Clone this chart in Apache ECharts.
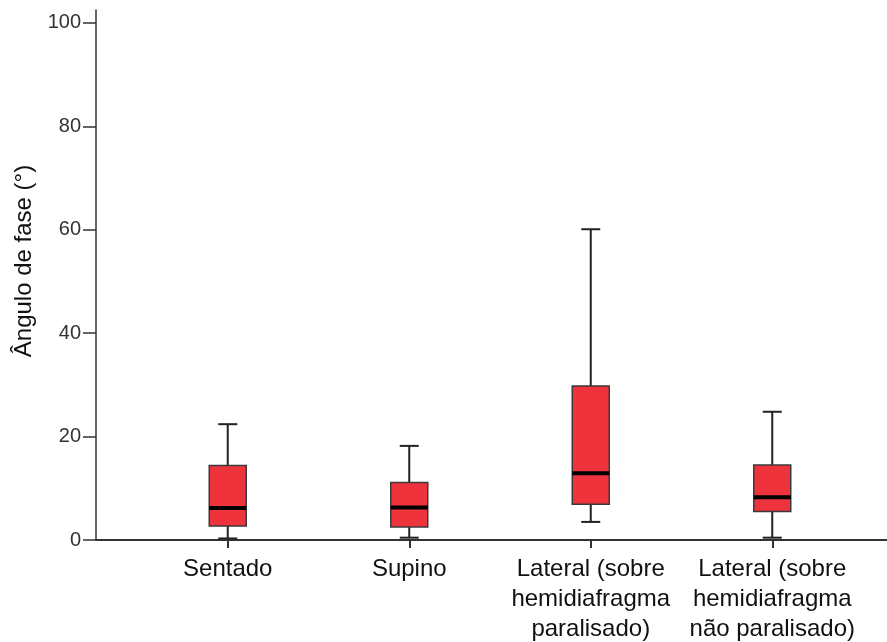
<!DOCTYPE html>
<html>
<head>
<meta charset="utf-8">
<script src="https://cdn.jsdelivr.net/npm/echarts@6/dist/echarts.min.js"></script>
<style>
html, body { margin: 0; padding: 0; background: #fff; }
#box-chart { width: 887px; height: 642px; }
</style>
</head>
<body>
<div id="box-chart"></div>
<script>
// data
var categories = ['Sentado', 'Supino', 'Lateral (sobre\nhemidiafragma\nparalisado)', 'Lateral (sobre\nhemidiafragma\nnão paralisado)'];
var mins = [0.3, 0.45, 3.5, 0.45];
var q1s = [2.7, 2.5, 6.9, 5.5];
var medians = [6.2, 6.3, 12.9, 8.25];
var q3s = [14.4, 11.1, 29.8, 14.5];
var maxs = [22.4, 18.2, 60.1, 24.8];
var yTicks = [0, 20, 40, 60, 80, 100];

var boxData = categories.map(function (c, i) {
    return [i, mins[i], q1s[i], medians[i], q3s[i], maxs[i]];
});

var font = '"Liberation Sans", Arial, sans-serif';
var lineCol = '#333';

function renderBox(params, api) {
    var i = api.value(0);
    var pMin = api.coord([i, api.value(1)]);
    var pQ1 = api.coord([i, api.value(2)]);
    var pMed = api.coord([i, api.value(3)]);
    var pQ3 = api.coord([i, api.value(4)]);
    var pMax = api.coord([i, api.value(5)]);
    var x = pMed[0];
    var bw = 37, cw = 19;
    var ws = { stroke: '#222', lineWidth: 2 };
    return {
        type: 'group',
        children: [
            { type: 'line', shape: { x1: x, y1: pQ3[1], x2: x, y2: pMax[1] }, style: ws },
            { type: 'line', shape: { x1: x, y1: pMin[1], x2: x, y2: pQ1[1] }, style: ws },
            { type: 'line', shape: { x1: x - cw / 2, y1: pMax[1], x2: x + cw / 2, y2: pMax[1] }, style: ws },
            { type: 'line', shape: { x1: x - cw / 2, y1: pMin[1], x2: x + cw / 2, y2: pMin[1] }, style: ws },
            {
                type: 'rect',
                shape: { x: x - bw / 2, y: pQ3[1], width: bw, height: pQ1[1] - pQ3[1] },
                style: { fill: '#EF333C', stroke: '#3a3a3a', lineWidth: 1.5 }
            },
            { type: 'line', shape: { x1: x - bw / 2, y1: pMed[1], x2: x + bw / 2, y2: pMed[1] }, style: { stroke: '#000', lineWidth: 4 } }
        ]
    };
}

var myChart = echarts.init(document.getElementById('box-chart'));
var option = {
    backgroundColor: '#fff',
    animation: false,
    grid: [
        { left: 96, right: 0, top: 10, bottom: 102, outerBoundsMode: 'none' },
        { left: 137, right: 24, top: 10, bottom: 102, outerBoundsMode: 'none' }
    ],
    xAxis: [{
        gridIndex: 0,
        type: 'value',
        min: 0,
        max: 1,
        axisLine: { show: true, onZero: false, lineStyle: { color: lineCol, width: 2 } },
        axisTick: { show: false },
        axisLabel: { show: false },
        splitLine: { show: false }
    }, {
        gridIndex: 1,
        type: 'category',
        data: categories,
        axisLine: { show: false },
        axisTick: { show: true, alignWithLabel: true, length: 8, lineStyle: { color: lineCol, width: 2 } },
        axisLabel: { color: '#111', fontSize: 24, lineHeight: 30, fontFamily: font, margin: 14, interval: 0 },
        splitLine: { show: false }
    }],
    yAxis: [{
        gridIndex: 0,
        type: 'value',
        min: 0,
        max: 102.5,
        name: 'Ângulo de fase (°)',
        nameLocation: 'middle',
        nameGap: 58,
        nameTextStyle: { color: '#111', fontSize: 24, fontFamily: font, padding: [0, 0, 0, 28] },
        axisLine: { show: true, lineStyle: { color: lineCol, width: 1.5 } },
        axisTick: { show: true, length: 13, customValues: yTicks, lineStyle: { color: lineCol, width: 1.5 } },
        axisLabel: { color: '#333', fontSize: 20, fontFamily: font, margin: 15, customValues: yTicks },
        splitLine: { show: false }
    }, {
        gridIndex: 1,
        type: 'value',
        min: 0,
        max: 102.5,
        show: false
    }],
    series: [{
        type: 'custom',
        xAxisIndex: 1,
        yAxisIndex: 1,
        renderItem: renderBox,
        encode: { x: 0, y: [1, 2, 3, 4, 5] },
        data: boxData
    }]
};
myChart.setOption(option);
</script>
</body>
</html>
